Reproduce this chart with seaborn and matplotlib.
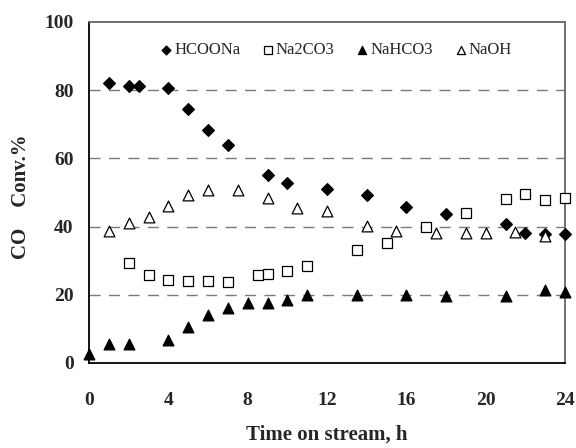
import matplotlib
matplotlib.use("Agg")
import matplotlib.pyplot as plt
import seaborn as sns
import pandas as pd

hcoona_x = [1, 2, 2.5, 4, 5, 6, 7, 9, 10, 12, 14, 16, 18, 21, 22, 23, 24]
hcoona_y = [82, 81.3, 81.3, 80.6, 74.4, 68.2, 63.8, 55, 52.8, 51.1, 49.1, 45.8, 43.8, 40.6, 38.1, 37.8, 37.9]

na2co3_x = [2, 3, 4, 5, 6, 7, 8.5, 9, 10, 11, 13.5, 15, 17, 19, 21, 22, 23, 24]
na2co3_y = [29.3, 25.7, 24.4, 24.1, 24.1, 23.7, 25.7, 26.0, 26.9, 28.5, 33.0, 35.2, 39.9, 44.0, 48.1, 49.4, 47.7, 48.4]

nahco3_x = [0, 1, 2, 4, 5, 6, 7, 8, 9, 10, 11, 13.5, 16, 18, 21, 23, 24]
nahco3_y = [2.5, 5.6, 5.6, 6.6, 10.5, 13.9, 16.1, 17.6, 17.6, 18.3, 19.8, 20, 20, 19.5, 19.5, 21.3, 20.7]

naoh_x = [1, 2, 3, 4, 5, 6, 7.5, 9, 10.5, 12, 14, 15.5, 17.5, 19, 20, 21.5, 23]
naoh_y = [38.6, 40.9, 42.9, 46.0, 49.1, 50.7, 50.7, 48.4, 45.3, 44.6, 40.1, 38.6, 38.1, 38.1, 38.1, 38.3, 37.1]

x_ticks = [0, 4, 8, 12, 16, 20, 24]
y_ticks = [0, 20, 40, 60, 80, 100]

sns.set_theme(style="white")
plt.rcParams['font.family'] = ['Liberation Serif', 'DejaVu Serif']

fig = plt.figure(figsize=(5.76, 4.48), dpi=100)
ax = fig.add_axes([0.1545, 0.19, 0.981 - 0.1545, 0.951 - 0.19])

for g in [20, 40, 60, 80]:
    ax.axhline(g, color='#7a7a7a', lw=1.0, ls=(0, (8, 6)), zorder=0)

series = [
    ("HCOONa", hcoona_x, hcoona_y, 'D', 'black', 36),
    ("Na2CO3", na2co3_x, na2co3_y, 's', 'white', 50),
    ("NaHCO3", nahco3_x, nahco3_y, '^', 'black', 60),
    ("NaOH", naoh_x, naoh_y, '^', 'white', 60),
]
for name, xs, ys, mk, fc, s in series:
    df = pd.DataFrame({"x": xs, "y": ys})
    sns.scatterplot(data=df, x="x", y="y", ax=ax, marker=mk, s=s,
                    facecolor=fc, edgecolor='black', linewidth=0.9,
                    label=name, clip_on=False, zorder=3)

ax.set_xlim(0, 24)
ax.set_ylim(0, 100)
ax.set_xticks(x_ticks)
ax.set_yticks(y_ticks)
ax.set_xticklabels([str(t) for t in x_ticks], fontweight='bold', fontsize=14)
ax.set_yticklabels([str(t) for t in y_ticks], fontweight='bold', fontsize=14)
ax.tick_params(axis='both', direction='in', length=5, width=1, color='black')
ax.tick_params(axis='x', pad=21)
ax.tick_params(axis='y', pad=11)

ax.set_xlabel("Time on stream, h", fontweight='bold', fontsize=15, labelpad=11)
ax.set_ylabel("CO    Conv.%", fontweight='bold', fontsize=15)
ax.yaxis.set_label_coords(-0.122, 0.487)

for side in ['left', 'bottom']:
    ax.spines[side].set_color('black')
    ax.spines[side].set_linewidth(1.3)
for side in ['top', 'right']:
    ax.spines[side].set_color('#666666')
    ax.spines[side].set_linewidth(1.3)

leg = ax.legend(loc='center', bbox_to_anchor=(0.518, 0.918), ncol=4, frameon=False,
                handlelength=0.8, handletextpad=0.1, columnspacing=1.25,
                fontsize=12, markerscale=0.75, borderaxespad=0, borderpad=0)

fig.savefig("out.png", dpi=100)
